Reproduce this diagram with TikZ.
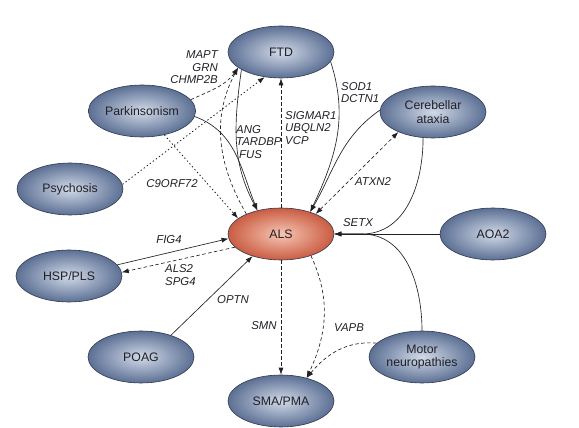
\documentclass[tikz,border=0pt]{standalone}
\usepackage{fontspec}
\setmainfont{Liberation Sans}
\usetikzlibrary{shapes.geometric,arrows.meta}
\definecolor{nodeedge}{RGB}{45,55,78}
\definecolor{blueout}{RGB}{92,112,148}
\definecolor{bluein}{RGB}{210,218,232}
\definecolor{redout}{RGB}{202,92,66}
\definecolor{redin}{RGB}{246,198,180}
\definecolor{ink}{RGB}{32,32,38}
\tikzset{
  disease/.style={ellipse, draw=nodeedge, line width=0.6pt, inner color=bluein,
    outer color=blueout, minimum width=106pt, minimum height=52pt, inner sep=1pt,
    align=center, text=ink, font=\fontsize{12.3}{13.4}\selectfont},
  alsnode/.style={disease, inner color=redin, outer color=redout},
  gene/.style={inner sep=0pt, align=left, text=ink,
    font=\fontsize{11.4}{12.5}\selectfont\itshape},
  link/.style={->, >={Latex[length=7pt,width=5pt]}, line width=0.65pt, draw=ink},
  dashlink/.style={link, dash pattern=on 3.5pt off 2.5pt},
  dotlink/.style={link, line width=0.8pt, dash pattern=on 1.4pt off 2.4pt}
}
\begin{document}
\begin{tikzpicture}[x=1pt,y=1pt]
  \useasboundingbox (0,0) rectangle (579,428);
  % diseases
  \node[disease] (ftd) at (281,376) {FTD};
  \node[disease] (park) at (142,317) {Parkinsonism};
  \node[disease] (psy) at (70,239) {Psychosis};
  \node[disease] (hsp) at (69,152) {HSP/PLS};
  \node[disease] (poag) at (141,71) {POAG};
  \node[disease] (sma) at (281,27) {SMA/PMA};
  \node[disease] (motor) at (422,71) {Motor\\neuropathies};
  \node[disease] (aoa) at (493,194) {AOA2};
  \node[disease] (cer) at (433,316) {Cerebellar\\ataxia};
  \node[alsnode] (als) at (281,194) {ALS};
  \coordinate (setxjoin) at (362,194);
  % links to and from FTD
  \draw[dashlink] (park.13) to[out=25,in=235] (ftd.200);
  \draw[dashlink] (als.150) to[out=120,in=242] (ftd.200);
  \draw[dotlink] (psy.5) -- (ftd.237);
  \draw[dashlink] (als.north) -- (ftd.south);
  \draw[link] (ftd.204) to[out=262,in=118] (als.135);
  \draw[link] (ftd.349) to[out=-72,in=65] (als.37);
  % links from the left
  \draw[dotlink] (park.313) -- (als.160);
  \draw[link] (park.354) to[out=-20,in=112] (als.135);
  \draw[link] (hsp.13) -- (als.185);
  \draw[dashlink] (als.196) -- (hsp.4);
  \draw[link] (poag.36) -- (als.218);
  % links from the right
  \draw[link] (cer.178) to[out=215,in=60] (als.37);
  \draw[dashlink, <->] (als.30) -- (cer.210);
  \draw[link] (cer.249) to[out=270,in=0] (setxjoin) -- (als.east);
  \draw[link] (aoa.west) -- (als.east);
  \draw[link] (motor.north) to[out=90,in=0] (setxjoin) -- (als.east);
  % links down to SMA/PMA
  \draw[dashlink] (als.south) -- (sma.north);
  \draw[dashlink] (als.324) to[out=295,in=65] (sma.42);
  \draw[dashlink] (motor.163) to[out=175,in=50] (sma.42);
  % gene labels
  \node[gene, align=right, anchor=east] (lblmapt) at (218,360.5) {MAPT\\GRN\\CHMP2B};
  \node[gene, anchor=west] (lblang) at (236,286) {ANG\\TARDBP\\\hspace{3pt}FUS};
  \node[gene, anchor=west] (lblsig) at (285,300) {SIGMAR1\\UBQLN2\\VCP};
  \node[gene, anchor=west] (lblsod) at (341,335.5) {SOD1\\DCTN1};
  \node[gene] (lblc9) at (172,244) {C9ORF72};
  \node[gene] (lblatxn) at (373,246) {ATXN2};
  \node[gene] (lblsetx) at (358,205) {SETX};
  \node[gene] (lblfig) at (169,188) {FIG4};
  \node[gene, anchor=west] (lblals) at (165,153) {ALS2\\SPG4};
  \node[gene] (lbloptn) at (233,128) {OPTN};
  \node[gene] (lblsmn) at (264,102) {SMN};
  \node[gene] (lblvapb) at (349,100) {VAPB};
\end{tikzpicture}
\end{document}
